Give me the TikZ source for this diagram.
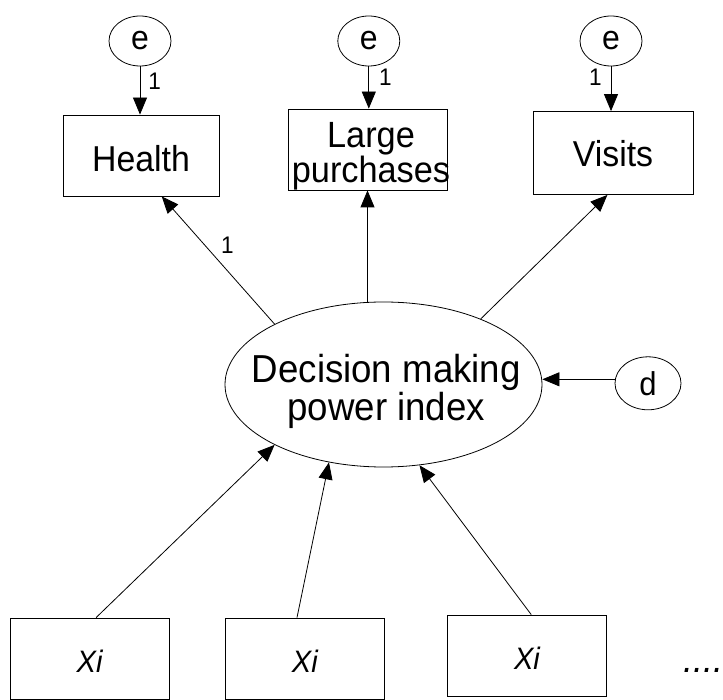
\documentclass[tikz,border=0pt]{standalone}
\usepackage{fontspec}
\setmainfont{Liberation Sans}[FakeStretch=0.94]
\usetikzlibrary{shapes.geometric,arrows.meta}
\newcommand{\tightlines}{\lineskiplimit -50pt\relax}
\begin{document}
\begin{tikzpicture}[x=1pt,y=-1pt, line width=0.8pt,
  box/.style={draw, rectangle, minimum width=159pt, minimum height=81pt, inner sep=0pt, font=\fontsize{36}{36}\selectfont},
  xbox/.style={box, font=\fontsize{31}{31}\selectfont\itshape, text height=28pt, text depth=0pt},
  err/.style={draw, ellipse, minimum width=62pt, minimum height=50pt, inner sep=0pt, font=\fontsize{34}{34}\selectfont},
  arr/.style={-{Triangle[length=17pt,width=14pt]}},
  one/.style={font=\fontsize{24}{24}\selectfont, inner sep=0pt},
  txt/.style={inner sep=0pt, align=center}]
\useasboundingbox (0,0) rectangle (723,700);
% error terms
\node[err] (eh) at (140,41) {e};
\node[err] (el) at (368.8,41) {e};
\node[err] (ev) at (611,41) {e};
% indicators
\node[box, minimum width=156pt, text height=32pt, text depth=0pt] (H) at (141,155.5) {Health};
\node[box] (L) at (367.5,149.5) {};
\node[txt, font=\fontsize{36.5}{35}\selectfont\tightlines] (Lt) at (371,156) {Large\\purchases};
\node[box, minimum width=160pt, minimum height=83pt, text height=28pt, text depth=0pt] (V) at (613,153) {Visits};
% latent variable
\node[draw, ellipse, minimum width=317pt, minimum height=165pt, inner sep=0pt] (dm) at (383.5,384.5) {};
\node[txt, font=\fontsize{39}{38}\selectfont\tightlines] (dmt) at (386.3,391.5) {Decision making\\power index};
\node[err, minimum width=66pt, minimum height=53pt, font=\fontsize{33}{33}\selectfont] (d) at (648,383.3) {d};
% causes
\node[xbox] (x1) at (89.6,658.5) {Xi};
\node[xbox] (x2) at (304.9,658.5) {Xi};
\node[xbox] (x3) at (527,655.5) {Xi};
\node[inner sep=0pt, anchor=base west, font=\fontsize{38}{38}\selectfont\itshape] (dots) at (683,672) {....};
% connectors
\draw[arr] (eh.south) -- node[one, pos=0.3, anchor=west, xshift=8pt] {1} (eh.south |- H.north);
\draw[arr] (el.south) -- node[one, pos=0.25, anchor=west, xshift=10pt] {1} (el.south |- L.north);
\draw[arr] (ev.south) -- node[one, pos=0.25, anchor=east, xshift=-9pt] {1} (ev.south |- V.north);
\draw[arr] (dm.151.3) -- node[one, pos=0.62, anchor=west, xshift=16pt] {1} ([xshift=20.7pt]H.south);
\draw[arr] (L.south |- dm.north) -- (L.south);
\draw[arr] (dm.34.2) -- ([xshift=-5.6pt]V.south);
\draw[arr] ([yshift=4pt]d.west) -- ([yshift=4pt]d.west -| dm.east);
\draw[arr] ([xshift=6.5pt]x1.north) -- (dm.209.4);
\draw[arr] ([xshift=-7.9pt]x2.north) -- (dm.235.9);
\draw[arr] ([xshift=4.2pt]x3.north) -- (dm.294.6);
\end{tikzpicture}
\end{document}
